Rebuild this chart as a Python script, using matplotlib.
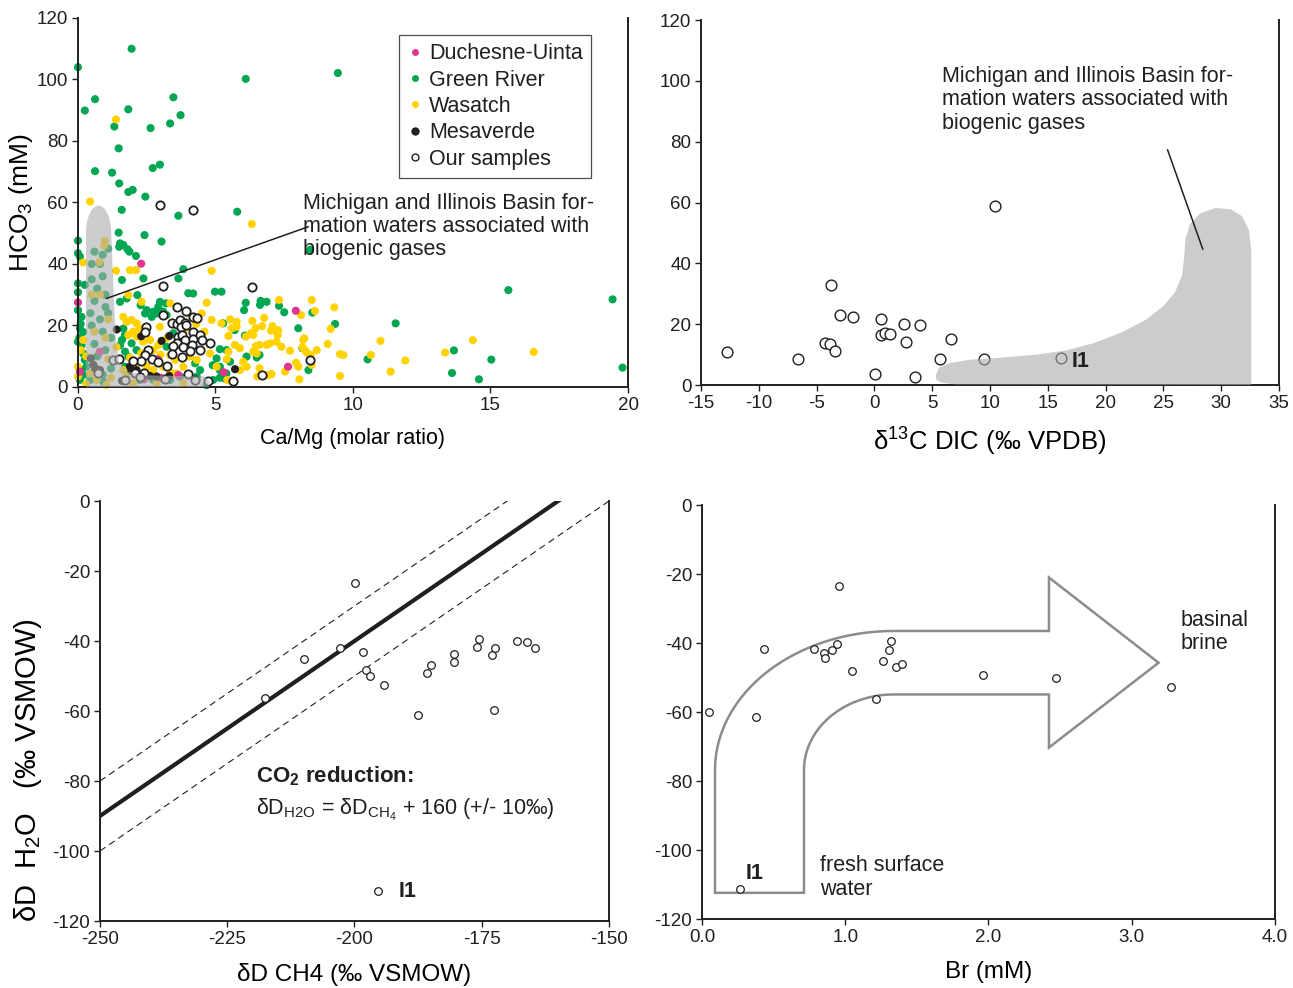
import numpy as np
import matplotlib.pyplot as plt
from matplotlib.patches import Polygon
from matplotlib.lines import Line2D

plt.rcParams['font.family'] = ['Liberation Sans', 'DejaVu Sans']
plt.rcParams['mathtext.fontset'] = 'custom'
plt.rcParams['mathtext.rm'] = 'Liberation Sans'
plt.rcParams['mathtext.it'] = 'Liberation Sans:italic'
plt.rcParams['mathtext.bf'] = 'Liberation Sans:bold'
plt.rcParams['axes.unicode_minus'] = False
plt.rcParams['text.color'] = '#231f20'

# ---------------- panel a: HCO3 vs Ca/Mg ----------------
green_xy = [
    (1.95, 110), (0, 104), (0.62, 93.6), (0.25, 89.9), (1.83, 90.3), (3.47, 94.2), (3.73, 88.4),
    (3.35, 85.7), (1.32, 84.7), (2.64, 84.2), (1.48, 77.6), (0.62, 70.2), (1.24, 69.7), (2.72, 71.2),
    (2.98, 72.3), (1.5, 66.2), (1.83, 63.4), (1.99, 64.1), (2.45, 61.9), (1.59, 57.6), (3.65, 55.7),
    (5.79, 57), (1.48, 50.2), (2.42, 49.4), (3.04, 47.3), (0, 47.6), (1.53, 46.7), (1.5, 45.6),
    (1.65, 46.2), (1.8, 44.8), (1.87, 44), (2.11, 42.6), (0, 43.5), (0.07, 42.4), (2.38, 35.3),
    (3.83, 38.3), (3.65, 35.3), (6.1, 100.2), (9.45, 102.1), (8.44, 44.6),
    (6.1, 27.4), (6.04, 25.0), (6.64, 28.0), (6.86, 27.7), (6.62, 26.7), (7.31, 26.4), (7.5, 24.3),
    (8.52, 24.2), (9.35, 20.5), (8.01, 19.1), (6.07, 16.7), (6.6, 10.4), (6.5, 9.6), (5.16, 12.3),
    (5.53, 8.2), (8.16, 12.6), (8.38, 5.5), (5.16, 6.6), (5.16, 3.0), (10.53, 9.0), (11.55, 20.7),
    (13.67, 11.9), (13.6, 4.55), (15.03, 8.9), (14.58, 2.5), (15.65, 31.5), (19.44, 28.5), (19.8, 6.3),
    (6.13, 9.9), (4.98, 31.0), (4.01, 30.5),
    (0.0, 33.7), (1.6, 34.8), (2.16, 29.9), (2.28, 26.6), (1.53, 27.7), (1.77, 28.8), (2.98, 27.7),
    (2.92, 26.1), (3.2, 27.2), (2.74, 24.5), (2.86, 23.9), (2.68, 22.8), (3.1, 24.5), (3.22, 23.4),
    (2.5, 25.0), (2.44, 23.9), (4.19, 30.4), (5.22, 31.0), (5.28, 20.7), (5.7, 18.5), (4.5, 15.1),
    (5.4, 12.0), (4.9, 7.1), (5.16, 5.5), (5.33, 2.8), (0.13, 22.8), (0.07, 19.0), (0.19, 17.9),
    (0.0, 14.7), (0.13, 13.6), (0.19, 10.9), (0.25, 8.8), (0.31, 6.6), (0.13, 5.5), (0.19, 3.9),
    (0.07, 2.3), (0.44, 2.3), (0.92, 1.7), (1.65, 19.0), (1.71, 16.9), (1.6, 15.3), (1.53, 13.6),
    (1.95, 14.2), (2.13, 12.0), (1.83, 9.9), (1.71, 11.5), (1.71, 6.6), (1.89, 5.5), (2.25, 2.3),
    (2.74, 2.3), (3.35, 2.3), (3.71, 3.4), (4.32, 3.4), (4.68, 0.6), (4.92, 2.3), (5.04, 9.3),
    (5.4, 4.4), (3.47, 17.5), (3.22, 13.1), (2.74, 8.8), (4.26, 7.7), (4.44, 5.5),
    (0.25, 33.2), (0.0, 30.8), (0.0, 25), (0.1, 20.5), (0.05, 16),
    (0.5, 35), (0.7, 32), (0.9, 36), (0.6, 28), (1.0, 26), (0.8, 22), (1.1, 24), (0.5, 20), (0.9, 18),
    (1.2, 16), (0.6, 14), (1.0, 12), (0.7, 10), (1.2, 6), (0.9, 4), (0.6, 44), (0.9, 43), (1.1, 45),
    (0.5, 40), (0.8, 40), (1.0, 30), (0.45, 24),
]
yellow_xy = [
    (0.44, 60.3), (1.38, 87.0), (6.32, 53.0), (0.98, 47.5), (0.78, 40.6), (0.19, 40.5), (1.89, 38.0),
    (2.11, 38.0), (1.38, 37.8), (4.86, 37.8), (1.83, 29.9),
    (7.31, 28.3), (8.11, 23.4), (8.5, 28.3), (8.62, 24.7), (9.32, 25.9), (9.19, 18.9), (6.34, 21.5),
    (6.77, 22.5), (5.77, 21.2), (5.53, 22.0), (6.46, 19.1), (6.7, 19.8), (7.02, 18.3), (7.07, 19.8),
    (7.28, 18.5), (7.26, 16.9), (5.59, 19.1), (5.77, 19.6), (5.47, 16.6), (6.11, 16.4), (6.29, 17.5),
    (6.37, 16.9), (6.86, 13.7), (6.98, 14.2), (7.22, 14.7), (7.4, 13.1), (7.71, 11.8), (6.47, 13.3),
    (6.6, 13.7), (6.37, 11.5), (6.5, 10.9), (5.89, 12.6), (5.71, 13.7), (5.47, 11.5), (5.41, 9.0),
    (6.01, 8.2), (6.13, 6.6), (5.89, 5.5), (6.6, 6.1), (6.52, 3.4), (7.04, 4.2), (6.92, 3.9),
    (7.53, 5.0), (7.93, 7.9), (8.01, 6.6), (8.25, 12.0), (8.19, 15.3), (8.23, 15.8), (8.16, 12.9),
    (8.32, 11.2), (8.68, 12.0), (8.46, 10.4), (8.5, 7.2), (8.05, 2.5), (9.08, 14.0), (9.53, 10.7),
    (9.65, 10.4), (9.53, 3.6), (5.43, 2.3), (5.22, 20.7),
    (11.0, 15.0), (10.65, 10.4), (11.9, 8.6), (11.37, 5.0), (13.35, 11.2), (14.36, 15.2), (16.57, 11.4),
    (2.31, 27.7), (3.35, 27.2), (4.68, 27.4), (4.5, 23.9), (4.86, 21.8), (1.65, 22.8), (1.77, 21.2),
    (1.95, 21.8), (2.13, 20.7), (2.25, 19.0), (2.01, 18.0), (1.83, 16.9), (2.13, 16.4), (2.37, 14.7),
    (2.62, 15.3), (2.92, 13.6), (2.74, 12.0), (3.22, 15.8), (2.98, 19.6), (3.35, 10.4), (3.53, 8.8),
    (3.1, 6.6), (3.35, 4.9), (3.59, 4.4), (2.74, 5.5), (2.5, 6.6), (2.13, 7.7), (1.89, 9.6),
    (1.53, 8.8), (1.65, 5.5), (1.77, 3.4), (2.01, 1.2), (2.86, 1.2), (3.83, 1.2), (4.07, 9.9),
    (4.8, 10.9), (5.04, 6.6), (0.44, 4.4), (0.68, 2.3), (1.04, 0.7), (0.0, 6.6), (0.0, 3.4),
    (0.19, 15.3), (4.13, 13.6), (3.83, 6.6), (4.32, 8.8), (3.9, 19), (4.3, 20.5), (4.6, 18),
    (3.0, 10.5), (2.3, 11), (4.0, 24), (3.4, 21), (1.4, 13), (1.2, 3.0), (0.3, 10), (0.1, 12),
    (0.3, 1.0), (2.5, 3.5),
    (0.95, 46), (0.8, 30), (1.1, 22), (0.6, 18), (1.0, 16), (0.7, 6), (1.1, 9), (0.5, 30),
]
pink_xy = [(2.3, 40.1), (0, 27.5), (0.07, 5.0), (5.3, 4.8), (3.65, 3.9), (7.92, 24.8), (7.64, 6.6),
           (0.8, 11.5), (1.35, 8.8), (2.9, 9.0), (3.0, 3.0), (2.4, 2.5)]
black_xy = [(1.41, 18.7), (3.04, 15.0), (3.32, 16.6), (0.47, 9.3), (0.56, 7.2), (0.62, 6.1),
            (1.89, 6.6), (1.95, 5.2), (2.13, 5.5), (2.62, 3.6), (2.86, 3.4), (3.32, 3.6), (0.8, 5.5),
            (5.71, 5.8), (2.3, 16.5), (1.6, 2.0)]
ours_xy = [
    (2.98, 59.1), (4.17, 57.5), (3.08, 32.8), (6.34, 32.6), (3.59, 25.9), (3.93, 24.8), (4.19, 22.7),
    (4.32, 22.5), (3.1, 23.4), (3.41, 20.7), (3.59, 20.5), (3.71, 21.8), (3.89, 20.7), (3.75, 19.4),
    (3.93, 20.2), (2.47, 19.4), (2.44, 18.0), (3.65, 16.4), (3.77, 16.9), (3.89, 15.3), (3.59, 14.4),
    (3.47, 13.3), (4.19, 18.0), (4.19, 15.6), (4.44, 16.9), (4.5, 15.3), (4.8, 14.2), (4.13, 13.7),
    (4.44, 12.0), (3.83, 12.9), (4.07, 11.8), (3.77, 9.9), (3.41, 10.6), (2.56, 12.0), (2.44, 10.4),
    (2.68, 9.0), (2.29, 8.6), (2.92, 8.2), (2.01, 8.6), (3.22, 6.8), (2.41, 4.7), (2.07, 4.7),
    (2.25, 3.1), (3.16, 2.5), (3.99, 4.2), (4.25, 2.3), (4.72, 2.0), (5.62, 2.0), (6.7, 3.8),
    (8.44, 8.8), (1.28, 8.8), (1.5, 9.0), (0.74, 4.4), (1.71, 2.3),
]

# ---------------- panel b: HCO3 vs d13C DIC ----------------
d13c = [-12.77, -6.61, -4.24, -3.86, -3.43, -3.72, -3.02, -1.86, 0.05, 0.54, 0.54, 0.91, 1.35,
        2.56, 2.73, 3.92, 3.52, 5.63, 6.61, 9.45, 10.46]
hco3_b = [10.9, 8.5, 13.7, 13.4, 11.3, 32.8, 23.1, 22.4, 3.5, 21.7, 16.4, 17.0, 16.8,
          20.1, 14.0, 19.8, 2.5, 8.4, 15.0, 8.5, 58.9]
i1_b = (16.1, 8.8)

# ---------------- panel c: dD H2O vs dD CH4 ----------------
dD_ch4 = [-199.8, -217.5, -209.9, -202.9, -198.3, -197.8, -196.9, -194.2, -187.6, -185.7, -185.0,
          -180.5, -180.5, -176.0, -175.6, -173.0, -172.3, -172.6, -168.1, -166.1, -164.6]
dD_h2o = [-23.4, -56.2, -45.1, -42.1, -43.0, -48.3, -50.1, -52.7, -61.2, -49.2, -46.9,
          -43.8, -46.0, -41.6, -39.3, -44.1, -42.1, -59.8, -40.1, -40.2, -41.9]
i1_c = (-195.4, -111.4)

# ---------------- panel d: dD H2O vs Br ----------------
br = [0.052, 0.377, 0.433, 0.782, 0.849, 0.861, 0.906, 0.942, 0.958, 1.049, 1.212, 1.262, 1.305,
      1.322, 1.353, 1.398, 1.960, 2.474, 3.271]
dD_h2o_d = [-59.9, -61.4, -41.8, -41.6, -43.0, -44.2, -42.0, -40.2, -23.5, -48.2, -56.1, -45.2, -42.0,
            -39.3, -46.9, -46.2, -49.3, -50.0, -52.7]
i1_d = (0.263, -111.3)

pink = '#e2338e'
green = '#00a651'
yellow = '#ffd200'
dark = '#231f20'
tick_fs = 13.5
txt_fs = 15.5

fig = plt.figure(figsize=(12.93, 9.88), dpi=100)

def style(ax):
    for s in ['left', 'bottom', 'right']:
        ax.spines[s].set_color(dark)
        ax.spines[s].set_linewidth(1.4)
    ax.spines['top'].set_visible(False)
    ax.tick_params(direction='out', length=4, width=1, colors=dark, labelsize=tick_fs, pad=3)
    ax.tick_params(right=False, top=False)

# panel a
ax1 = fig.add_axes([0.0603, 0.6083, 0.4254, 0.3735])
style(ax1)
for pts, col in [(green_xy, green), (yellow_xy, yellow), (pink_xy, pink), (black_xy, dark)]:
    xs, ys = zip(*pts)
    ax1.scatter(xs, ys, s=34, color=col, edgecolors='none', clip_on=False, zorder=2)
xs, ys = zip(*ours_xy)
ax1.scatter(xs, ys, s=36, facecolors='white', edgecolors=dark, linewidths=1.3, clip_on=False, zorder=3)

t = np.linspace(0, np.pi, 30)
top_x = 0.75 + 0.46 * np.cos(t)
top_y = 50 + 9 * np.sin(t)
blob1 = list(zip(top_x, top_y)) + [(0.29, 0), (4.75, 0), (4.8, 1.5), (4.6, 3.4), (2.5, 3.8),
                                   (1.8, 5), (1.5, 8), (1.38, 15), (1.3, 30), (1.21, 50)]
ax1.add_patch(Polygon(blob1, closed=True, facecolor='#a9acaf', edgecolor='none', alpha=0.6, zorder=4))
ax1.plot([1.04, 8.37], [28.8, 52.1], color=dark, lw=1.1, zorder=5)
ax1.text(8.2, 52.2, 'Michigan and Illinois Basin for-\nmation waters associated with\nbiogenic gases',
         fontsize=txt_fs, va='center', ha='left', linespacing=1.15, zorder=6)
ax1.set_xlim(0, 20)
ax1.set_ylim(0, 120)
ax1.set_xticks([0, 5, 10, 15, 20])
ax1.set_yticks(range(0, 121, 20))
ax1.set_xlabel('Ca/Mg (molar ratio)', fontsize=15.5, labelpad=10)
ax1.set_ylabel(r'HCO$_\mathregular{3}$ (mM)', fontsize=19, labelpad=1)

handles = [
    Line2D([], [], ls='none', marker='o', ms=5, mfc=pink, mec='none'),
    Line2D([], [], ls='none', marker='o', ms=5, mfc=green, mec='none'),
    Line2D([], [], ls='none', marker='o', ms=5, mfc=yellow, mec='none'),
    Line2D([], [], ls='none', marker='o', ms=6, mfc=dark, mec='none'),
    Line2D([], [], ls='none', marker='o', ms=5, mfc='white', mec=dark, mew=1),
]
leg = ax1.legend(handles, ['Duchesne-Uinta', 'Green River', 'Wasatch', 'Mesaverde', 'Our samples'],
                 loc='upper left', bbox_to_anchor=(0.5836, 0.955), fontsize=15.5, frameon=True,
                 fancybox=False, edgecolor=dark, handletextpad=0.3, handlelength=0.7,
                 labelspacing=0.25, borderpad=0.4, borderaxespad=0)
leg.get_frame().set_linewidth(0.9)
leg.set_zorder(7)

# panel b
ax2 = fig.add_axes([0.5422, 0.6103, 0.447, 0.3694])
style(ax2)
ax2.scatter(d13c, hco3_b, s=60, facecolors='white', edgecolors=dark, linewidths=1.0, zorder=2, clip_on=False)
ax2.scatter([i1_b[0]], [i1_b[1]], s=60, facecolors='white', edgecolors=dark, linewidths=1.0, zorder=2)
blob2 = [(5.3, 3.2), (5.6, 5.8), (6.5, 7.2), (8.2, 8.3), (11.0, 9.0), (14.0, 10.0), (16.5, 11.3),
         (19.0, 13.8), (21.5, 17.5), (23.5, 21.5), (25.0, 26.0), (26.0, 30.5), (26.6, 36.0),
         (26.8, 42.0), (26.9, 48.0), (27.3, 53.0), (28.2, 56.5), (29.5, 58.2), (30.8, 57.8),
         (31.8, 55.5), (32.4, 51.0), (32.6, 44.0), (32.6, 0), (7.0, 0.2), (5.8, 0.8), (5.35, 1.8)]
ax2.add_patch(Polygon(blob2, closed=True, facecolor='#aaaaaa', edgecolor='none', alpha=0.6, zorder=3))
ax2.plot([25.36, 28.4], [77.3, 44.7], color=dark, lw=1.1, zorder=4)
ax2.text(5.83, 93.8, 'Michigan and Illinois Basin for-\nmation waters associated with\nbiogenic gases',
         fontsize=txt_fs, va='center', ha='left', linespacing=1.15)
ax2.text(17.03, 7.6, 'I1', fontsize=txt_fs, fontweight='bold', va='center', ha='left', zorder=5)
ax2.set_xlim(-15, 35)
ax2.set_ylim(0, 120)
ax2.set_xticks(range(-15, 36, 5))
ax2.set_yticks(range(0, 121, 20))
ax2.set_xlabel(r'δ$^{13}$C DIC (‰ VPDB)', fontsize=18.5, labelpad=10)

# panel c
ax3 = fig.add_axes([0.0773, 0.0678, 0.3937, 0.4251])
style(ax3)
xl = np.array([-250, -150])
ax3.plot(xl, xl + 160, color=dark, lw=3, zorder=2)
ax3.plot(xl, xl + 170, color=dark, lw=0.8, ls=(0, (6, 4)), zorder=2)
ax3.plot(xl, xl + 150, color=dark, lw=0.8, ls=(0, (6, 4)), zorder=2)
ax3.scatter(dD_ch4, dD_h2o, s=30, facecolors='white', edgecolors=dark, linewidths=0.9, zorder=3)
ax3.scatter([i1_c[0]], [i1_c[1]], s=30, facecolors='white', edgecolors=dark, linewidths=0.9, zorder=3)
ax3.text(-191.3, -111.7, 'I1', fontsize=txt_fs, fontweight='bold', va='center', ha='left')
ax3.text(-219.4, -78.6, r'$\mathbf{CO_2}$ reduction:', fontsize=16, fontweight='bold', va='center', ha='left')
ax3.text(-219.4, -88.2, r'δD$_\mathregular{H2O}$ = δD$_\mathregular{CH_4}$ + 160 (+/- 10‰)',
         fontsize=txt_fs, va='center', ha='left')
ax3.set_xlim(-250, -150)
ax3.set_ylim(-120, 0)
ax3.set_xticks(range(-250, -149, 25))
ax3.set_yticks(range(-120, 1, 20))
ax3.set_xlabel('δD CH4 (‰ VSMOW)', fontsize=17.5, labelpad=11)
ax3.set_ylabel(r'δD  H$_\mathregular{2}$O   (‰ VSMOW)', fontsize=21)
ax3.yaxis.set_label_coords(-0.11, 0.36)

# panel d
ax4 = fig.add_axes([0.5429, 0.0698, 0.4432, 0.4190])
style(ax4)
x_left, x_stem, y_bot, y_stem = 0.091, 0.712, -112.4, -76.8
x_bend, y_out, y_in = 1.339, -36.5, -54.9
x_notch, y_htop, y_hbot, x_tip, y_tip = 2.422, -21.0, -70.3, 3.187, -45.7
th = np.linspace(np.pi, np.pi / 2, 40)
inner = [(x_bend + (x_bend - x_stem) * np.cos(a), y_stem + (y_in - y_stem) * np.sin(a)) for a in th]
outer = [(x_bend + (x_bend - x_left) * np.cos(a), y_stem + (y_out - y_stem) * np.sin(a)) for a in th[::-1]]
arrow = ([(x_left, y_bot), (x_stem, y_bot), (x_stem, y_stem)] + inner +
         [(x_notch, y_in), (x_notch, y_hbot), (x_tip, y_tip), (x_notch, y_htop), (x_notch, y_out)] +
         outer + [(x_left, y_stem)])
ax4.add_patch(Polygon(arrow, closed=True, facecolor='none', edgecolor='#8c8c8c', lw=1.8, zorder=2))
ax4.scatter(br, dD_h2o_d, s=30, facecolors='white', edgecolors=dark, linewidths=0.9, zorder=3, clip_on=False)
ax4.scatter([i1_d[0]], [i1_d[1]], s=30, facecolors='white', edgecolors=dark, linewidths=0.9, zorder=3)
ax4.text(0.307, -106.7, 'I1', fontsize=txt_fs, fontweight='bold', va='center', ha='left')
ax4.text(3.344, -36.8, 'basinal\nbrine', fontsize=txt_fs, va='center', ha='left', linespacing=1.15)
ax4.text(0.824, -108.0, 'fresh surface\nwater', fontsize=txt_fs, va='center', ha='left', linespacing=1.15)
ax4.set_xlim(0, 4)
ax4.set_ylim(-120, 0)
ax4.set_xticks([0, 1, 2, 3, 4])
ax4.set_xticklabels(['0.0', '1.0', '2.0', '3.0', '4.0'])
ax4.set_yticks(range(-120, 1, 20))
ax4.set_xlabel('Br (mM)', fontsize=17.5, labelpad=11)

fig.savefig('out.png', dpi=100)
